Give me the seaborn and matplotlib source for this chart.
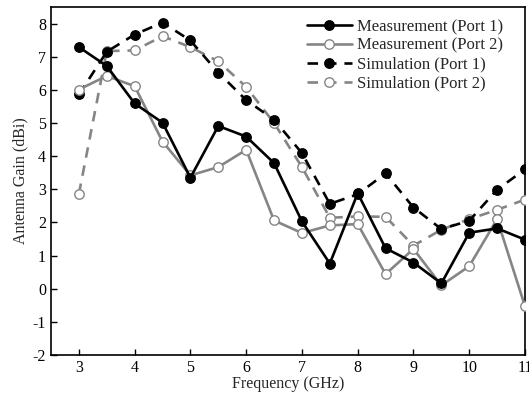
import numpy as np
import pandas as pd
import matplotlib
matplotlib.use("Agg")
import matplotlib.pyplot as plt
import seaborn as sns

freq = [3, 3.5, 4, 4.5, 5, 5.5, 6, 6.5, 7, 7.5, 8, 8.5, 9, 9.5, 10, 10.5, 11]
meas_p1 = [7.29, 6.72, 5.59, 5.01, 3.35, 4.91, 4.59, 3.79, 2.03, 0.76, 2.88, 1.22, 0.79, 0.16, 1.69, 1.82, 1.48]
meas_p2 = [6.01, 6.42, 6.11, 4.44, 3.42, 3.67, 4.19, 2.06, 1.68, 1.91, 1.95, 0.44, 1.2, 0.1, 0.68, 2.1, -0.53]
sim_p1 = [5.86, 7.15, 7.67, 8.03, 7.49, 6.52, 5.69, 5.1, 4.09, 2.56, 2.85, 3.48, 2.45, 1.8, 2.05, 2.99, 3.6]
sim_p2 = [2.86, 7.17, 7.19, 7.62, 7.29, 6.86, 6.09, 5.0, 3.67, 2.14, 2.18, 2.17, 1.3, 1.78, 2.1, 2.38, 2.69]
labels = ["Measurement (Port 1)", "Measurement (Port 2)", "Simulation (Port 1)", "Simulation (Port 2)"]

sns.set_style("ticks")
plt.rcParams['font.family'] = ['Liberation Serif', 'DejaVu Serif']
plt.rcParams['axes.unicode_minus'] = False

fig = plt.figure(figsize=(5.29, 3.96), dpi=100)
ax = fig.add_axes([51/529, 1 - 355/396, (525 - 51)/529, (355 - 7)/396])

black = "#000000"
gray = "#858585"
series = [
    (meas_p1, labels[0], black, "-", black),
    (meas_p2, labels[1], gray, "-", "white"),
    (sim_p1, labels[2], black, (0, (4, 3)), black),
    (sim_p2, labels[3], gray, (0, (4, 3)), "white"),
]
order = [3, 2, 1, 0]
for i in order:
    vals, lab, col, ls, mfc = series[i]
    df = pd.DataFrame({"Frequency": freq, "Gain": vals})
    sns.lineplot(data=df, x="Frequency", y="Gain", ax=ax, color=col, linestyle=ls,
                 linewidth=1.9, marker="o", markersize=6.8, markerfacecolor=mfc,
                 markeredgecolor=col, markeredgewidth=1.0, label=lab, zorder=3 + (3 - i))

h, l = ax.get_legend_handles_labels()
hd = dict(zip(l, h))
leg = ax.legend([hd[k] for k in labels], labels, loc="upper right", frameon=False,
                fontsize=12, handlelength=2.7, handletextpad=0.3, labelspacing=0.17,
                borderaxespad=0, borderpad=0,
                bbox_to_anchor=((503 - 51) / 474, 1 - (19 - 7) / 348))

ax.set_xlim(2.5, 11)
ax.set_ylim(-2, 8.5)
ax.set_xticks(range(3, 12))
ax.set_yticks(range(-2, 9))
ax.tick_params(direction="in", length=4, width=1, labelsize=11.5, colors="black")
for s in ax.spines.values():
    s.set_linewidth(1.2)
    s.set_color("black")
ax.set_xlabel("Frequency (GHz)", fontsize=11.5, labelpad=0)
ax.set_ylabel("Antenna Gain (dBi)", fontsize=11.5, labelpad=3)

fig.savefig("out.png", dpi=100)
